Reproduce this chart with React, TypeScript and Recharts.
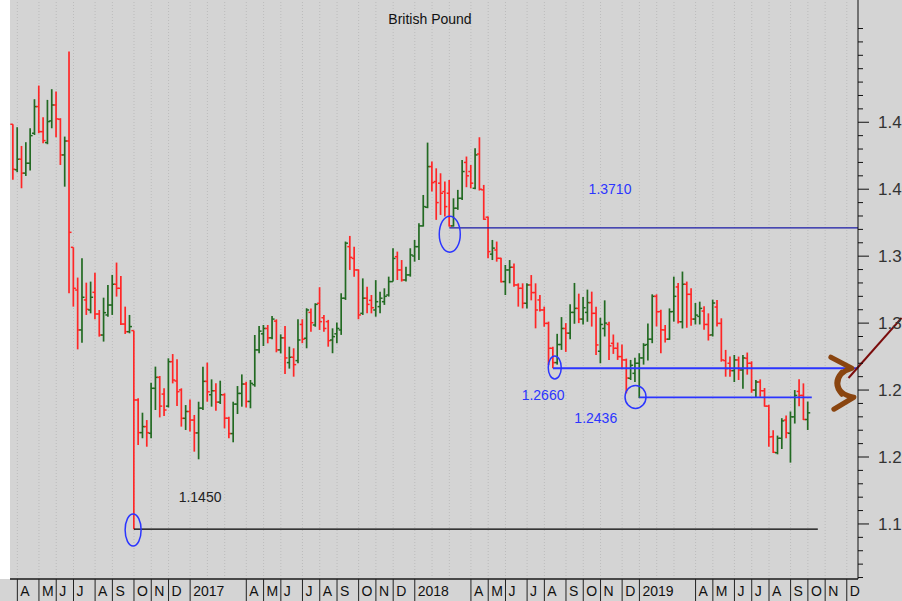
import React from "react";
import {
  Bar,
  ComposedChart,
  ReferenceDot,
  ReferenceLine,
  XAxis,
  YAxis
} from "recharts";

// weekly bars, week 0 = week ending 25 Mar 2016
const opens = [
  1.4485, 1.4145, 1.4224, 1.412, 1.4194, 1.4418, 1.4617, 1.443, 1.4348, 1.451,
  1.4629, 1.4522, 1.4256, 1.436, 1.3566, 1.3247, 1.2949, 1.3173, 1.3098, 1.323,
  1.3068, 1.2911, 1.3061, 1.3135, 1.329, 1.326, 1.2993, 1.2936, 1.2944, 1.2426,
  1.2182, 1.2227, 1.2177, 1.2513, 1.2595, 1.247, 1.238, 1.2712, 1.2568, 1.2501,
  1.2289, 1.234, 1.2276, 1.218, 1.2365, 1.2565, 1.2465, 1.2495, 1.241, 1.2465,
  1.229, 1.2175, 1.2395, 1.2475, 1.2545, 1.2415, 1.254, 1.28, 1.292, 1.296,
  1.289, 1.3015, 1.28, 1.289, 1.2705, 1.2745, 1.272, 1.299, 1.2887, 1.308,
  1.2986, 1.3148, 1.304, 1.3011, 1.2874, 1.292, 1.2949, 1.3186, 1.3571, 1.3483,
  1.3397, 1.3073, 1.3186, 1.317, 1.3098, 1.3123, 1.316, 1.321, 1.331, 1.3496,
  1.3397, 1.3322, 1.336, 1.3501, 1.3571, 1.3726, 1.3865, 1.4169, 1.4057, 1.4045,
  1.3982, 1.397, 1.3726, 1.3858, 1.3932, 1.42, 1.4132, 1.4007, 1.4263, 1.3995,
  1.3791, 1.3515, 1.3546, 1.3484, 1.331, 1.3397, 1.3417, 1.3285, 1.326, 1.3148,
  1.3285, 1.3228, 1.3173, 1.3098, 1.2998, 1.2812, 1.2705, 1.284, 1.296, 1.2925,
  1.308, 1.311, 1.303, 1.308, 1.3153, 1.3073, 1.279, 1.296, 1.299, 1.2849,
  1.2812, 1.275, 1.2725, 1.2588, 1.2625, 1.27, 1.274, 1.284, 1.288, 1.32,
  1.3086, 1.2949, 1.288, 1.3086, 1.327, 1.301, 1.329, 1.3215, 1.303, 1.305,
  1.309, 1.299, 1.2912, 1.312, 1.2998, 1.272, 1.27, 1.2645, 1.2725, 1.265,
  1.2737, 1.27, 1.25, 1.256, 1.2495, 1.238, 1.2152, 1.2032, 1.214, 1.2276,
  1.2177, 1.23, 1.249, 1.246, 1.228
];

const highs = [
  1.4485, 1.4463, 1.4323, 1.4351, 1.4455, 1.4672, 1.4774, 1.4537, 1.4667, 1.4747,
  1.4729, 1.453, 1.4393, 1.5028, 1.3566, 1.334, 1.3484, 1.3302, 1.331, 1.3377,
  1.3098, 1.319, 1.3285, 1.336, 1.3452, 1.3352, 1.3123, 1.3061, 1.2944, 1.2438,
  1.2331, 1.2276, 1.2555, 1.2675, 1.2605, 1.2513, 1.2737, 1.2769, 1.273, 1.2513,
  1.2388, 1.243, 1.2314, 1.2413, 1.2675, 1.2705, 1.258, 1.255, 1.257, 1.2476,
  1.2301, 1.2413, 1.253, 1.2617, 1.2563, 1.2575, 1.2911, 1.2979, 1.2986, 1.2986,
  1.3053, 1.3028, 1.2916, 1.2979, 1.2824, 1.2812, 1.3029, 1.3029, 1.3111, 1.311,
  1.3148, 1.3268, 1.3061, 1.3024, 1.2961, 1.3004, 1.3223, 1.3609, 1.3651, 1.3571,
  1.3401, 1.3334, 1.3272, 1.321, 1.3321, 1.3235, 1.326, 1.3347, 1.3559, 1.3534,
  1.3471, 1.3421, 1.3559, 1.3621, 1.3746, 1.3957, 1.4348, 1.4206, 1.4156, 1.4119,
  1.4057, 1.4069, 1.3932, 1.3995, 1.4219, 1.4244, 1.4181, 1.4306, 1.4388, 1.4032,
  1.3796, 1.3621, 1.3609, 1.3489, 1.3434, 1.3471, 1.3446, 1.3297, 1.3297, 1.3297,
  1.3359, 1.3297, 1.321, 1.3123, 1.3011, 1.2824, 1.292, 1.3045, 1.3, 1.314,
  1.33, 1.322, 1.3195, 1.325, 1.3235, 1.3123, 1.304, 1.317, 1.301, 1.2915,
  1.2855, 1.284, 1.2735, 1.2725, 1.2742, 1.2775, 1.285, 1.2998, 1.3215, 1.3215,
  1.31, 1.2986, 1.311, 1.3347, 1.33, 1.3385, 1.331, 1.326, 1.315, 1.316,
  1.3125, 1.3073, 1.3175, 1.3172, 1.3036, 1.28, 1.275, 1.2762, 1.275, 1.2762,
  1.278, 1.2715, 1.2575, 1.258, 1.2515, 1.239, 1.22, 1.216, 1.229, 1.231,
  1.234, 1.25, 1.258, 1.255, 1.2414
];

const lows = [
  1.407, 1.4127, 1.4007, 1.4099, 1.4139, 1.4405, 1.4418, 1.4343, 1.4336, 1.4455,
  1.4388, 1.4181, 1.4019, 1.3223, 1.3123, 1.2804, 1.2854, 1.3061, 1.3073, 1.3028,
  1.2899, 1.2862, 1.3048, 1.3061, 1.3198, 1.2986, 1.2919, 1.2924, 1.146, 1.209,
  1.214, 1.2077, 1.214, 1.2351, 1.2296, 1.2306, 1.237, 1.255, 1.2381, 1.2227,
  1.2202, 1.219, 1.204, 1.1983, 1.2351, 1.2413, 1.2376, 1.2346, 1.2396, 1.2214,
  1.214, 1.211, 1.2321, 1.2376, 1.2369, 1.2364, 1.2525, 1.2774, 1.2829, 1.2849,
  1.2879, 1.2782, 1.2774, 1.262, 1.266, 1.26, 1.27, 1.285, 1.2812, 1.2936,
  1.2973, 1.2949, 1.2936, 1.2824, 1.2775, 1.2849, 1.2912, 1.3173, 1.3397, 1.3347,
  1.3029, 1.3061, 1.3073, 1.3073, 1.3048, 1.3073, 1.3136, 1.3198, 1.331, 1.3322,
  1.331, 1.331, 1.3347, 1.3459, 1.3471, 1.3721, 1.3858, 1.3982, 1.3771, 1.3808,
  1.3796, 1.3721, 1.3721, 1.3846, 1.392, 1.4015, 1.4007, 1.4, 1.399, 1.3771,
  1.3484, 1.3471, 1.3459, 1.3303, 1.321, 1.3297, 1.3272, 1.3123, 1.311, 1.311,
  1.317, 1.2961, 1.3086, 1.2973, 1.2687, 1.2662, 1.269, 1.28, 1.2785, 1.288,
  1.2995, 1.3, 1.299, 1.301, 1.2974, 1.2762, 1.27, 1.29, 1.2725, 1.277,
  1.2725, 1.2655, 1.2475, 1.2575, 1.256, 1.244, 1.269, 1.272, 1.285, 1.2975,
  1.2775, 1.2855, 1.2875, 1.3011, 1.2998, 1.296, 1.2965, 1.298, 1.299, 1.299,
  1.295, 1.287, 1.29, 1.2974, 1.2712, 1.26, 1.26, 1.256, 1.2575, 1.251,
  1.2615, 1.248, 1.244, 1.245, 1.2376, 1.2077, 1.203, 1.202, 1.206, 1.214,
  1.1958, 1.225, 1.238, 1.2276, 1.2202
];

const closes = [
  1.4149, 1.4224, 1.412, 1.4194, 1.44, 1.4617, 1.443, 1.4363, 1.4505, 1.4629,
  1.4525, 1.4256, 1.436, 1.3678, 1.326, 1.2949, 1.3193, 1.3103, 1.3193, 1.3068,
  1.2911, 1.3078, 1.3135, 1.329, 1.326, 1.2993, 1.2936, 1.2974, 1.2426, 1.2182,
  1.2227, 1.2182, 1.2513, 1.2595, 1.238, 1.2351, 1.2712, 1.2575, 1.2488, 1.2289,
  1.234, 1.2276, 1.218, 1.2365, 1.2565, 1.2487, 1.2495, 1.241, 1.2465, 1.229,
  1.2175, 1.2395, 1.2475, 1.2545, 1.2415, 1.255, 1.28, 1.294, 1.296, 1.289,
  1.303, 1.28, 1.289, 1.274, 1.2745, 1.269, 1.2874, 1.288, 1.3098, 1.3003,
  1.314, 1.3011, 1.296, 1.2869, 1.2899, 1.296, 1.3186, 1.3597, 1.3491, 1.3397,
  1.3061, 1.3186, 1.314, 1.3115, 1.316, 1.3186, 1.32, 1.331, 1.3483, 1.3397,
  1.3322, 1.336, 1.3509, 1.3571, 1.3726, 1.387, 1.4169, 1.4049, 1.39, 1.397,
  1.387, 1.3726, 1.3858, 1.3932, 1.4132, 1.41, 1.4045, 1.4256, 1.4, 1.3776,
  1.3534, 1.356, 1.3484, 1.331, 1.3397, 1.3417, 1.3285, 1.326, 1.3148, 1.3285,
  1.3228, 1.3098, 1.3098, 1.2998, 1.2812, 1.2705, 1.284, 1.296, 1.2925, 1.308,
  1.311, 1.303, 1.3115, 1.3153, 1.3073, 1.2837, 1.299, 1.3, 1.283, 1.2812,
  1.275, 1.2725, 1.259, 1.2685, 1.27, 1.274, 1.2835, 1.288, 1.32, 1.3085,
  1.295, 1.288, 1.3085, 1.32, 1.301, 1.329, 1.3215, 1.303, 1.306, 1.311,
  1.299, 1.291, 1.315, 1.2998, 1.2725, 1.266, 1.2645, 1.2725, 1.265, 1.274,
  1.27, 1.25, 1.256, 1.2495, 1.238, 1.215, 1.2035, 1.214, 1.227, 1.218,
  1.23, 1.246, 1.246, 1.228, 1.233
];

// first week of each labelled month on the time axis
const monthWeeks = [
  1, 6, 10, 14, 19, 23, 28, 32, 36, 41, 54, 58, 62, 67, 71, 75, 80, 84, 88, 93,
  106, 110, 114, 119, 123, 128, 132, 136, 141, 145, 158, 162, 167, 171, 175, 180,
  184, 188, 193
];
const monthLabels = [
  "A", "M", "J", "J", "A", "S", "O", "N", "D", "2017", "A", "M", "J", "J", "A",
  "S", "O", "N", "D", "2018", "A", "M", "J", "J", "A", "S", "O", "N", "D", "2019",
  "A", "M", "J", "J", "A", "S", "O", "N", "D"
];
// every month start gets a dotted grid line
const gridWeeks = [
  1, 6, 10, 14, 19, 23, 28, 32, 36, 41, 45, 49, 54, 58, 62, 67, 71, 75, 80, 84,
  88, 93, 97, 101, 106, 110, 114, 119, 123, 128, 132, 136, 141, 145, 149, 153,
  158, 162, 167, 171, 175, 180, 184, 188, 193
];

const priceTicks = [
  1.11, 1.12, 1.13, 1.14, 1.15, 1.16, 1.17, 1.18, 1.19, 1.2, 1.21, 1.22, 1.23,
  1.24, 1.25, 1.26, 1.27, 1.28, 1.29, 1.3, 1.31, 1.32, 1.33, 1.34, 1.35, 1.36,
  1.37, 1.38, 1.39, 1.4, 1.41, 1.42, 1.43, 1.44, 1.45, 1.46, 1.47, 1.48, 1.49,
  1.5, 1.51, 1.52
];
const labelledPrices = [1.15, 1.2, 1.25, 1.3, 1.35, 1.4, 1.45];

// drawn support levels and their captions
const levelValues = [1.1462, 1.3711, 1.2663, 1.2446];
const levelLabels = ["1.1450", "1.3710", "1.2660", "1.2436"];

const RED = "#ff2626";
const GREEN = "#226a22";
const BLUE = "#2b35ff";
const FONT = "'Liberation Sans', Arial, Helvetica, sans-serif";
const X_DOMAIN: [number, number] = [-0.7, 195.6];
const Y_DOMAIN: [number, number] = [1.1089, 1.5413];

const rows = opens.map((open, i) => ({
  week: i,
  open,
  high: highs[i],
  low: lows[i],
  close: closes[i],
  range: [lows[i], highs[i]]
}));

function OhlcBar(props: any) {
  const { x, y, width, height, payload } = props;
  if (!payload || !Number.isFinite(y) || !Number.isFinite(height)) return null;
  const cx = x + width / 2;
  const top = Math.min(y, y + height);
  const h = Math.abs(height);
  const span = payload.high - payload.low || 1;
  const at = (v: number) => top + ((payload.high - v) / span) * h;
  const color = payload.close >= payload.open ? GREEN : RED;
  return (
    <g stroke={color}>
      <line x1={cx} x2={cx} y1={top} y2={top + h} strokeWidth={1.7} />
      <line x1={cx - 2.5} x2={cx} y1={at(payload.open)} y2={at(payload.open)} strokeWidth={1.5} />
      <line x1={cx} x2={cx + 2.5} y1={at(payload.close)} y2={at(payload.close)} strokeWidth={1.5} />
    </g>
  );
}

function MonthTick(props: any) {
  const { x, y, payload } = props;
  const label = monthLabels[monthWeeks.indexOf(payload.value)];
  return (
    <g>
      <line x1={x} x2={x} y1={y} y2={y + 22} stroke="#222" strokeWidth={1} />
      <text x={x + 3} y={y + 17} fontSize={14} fill="#111" fontFamily={FONT}>
        {label}
      </text>
    </g>
  );
}

function PriceTick(props: any) {
  const { x, y, payload } = props;
  const v = payload.value;
  const major = labelledPrices.some((p) => Math.abs(p - v) < 1e-6);
  return (
    <g>
      <line x1={x} x2={x + (major ? 11 : 5)} y1={y} y2={y} stroke="#111" />
      {major && (
        <text x={x + 20} y={y + 6} fontSize={17} fill="#333" fontFamily={FONT}>
          {v.toFixed(2)}
        </text>
      )}
    </g>
  );
}

const ring = (rx: number, ry: number) => (p: any) =>
  <ellipse cx={p.cx} cy={p.cy} rx={rx} ry={ry} fill="none" stroke={BLUE} strokeWidth={1.5} />;

const note = (text: string, color: string) => (p: any) =>
  (
    <text x={p.cx} y={p.cy} textAnchor="middle" dominantBaseline="central" fontSize={14} fill={color} fontFamily={FONT}>
      {text}
    </text>
  );

// hand drawn brown bracket next to the axis
const bracket = (p: any) => (
  <g fill="none" stroke="#8a4510" strokeWidth={5} strokeLinecap="round" strokeLinejoin="round">
    <path d={`M ${p.cx - 12} ${p.cy - 26} L ${p.cx + 9} ${p.cy - 15} Q ${p.cx - 5} ${p.cy - 11} ${p.cx - 5} ${p.cy} Q ${p.cx - 5} ${p.cy + 11} ${p.cx + 11} ${p.cy + 14} L ${p.cx - 9} ${p.cy + 26}`} />
    <path d={`M ${p.cx - 1} ${p.cy - 11} Q ${p.cx - 11} ${p.cy} ${p.cx - 1} ${p.cy + 11}`} />
  </g>
);

// dotted month grid, drawn in its own layer underneath the bars
function GridLayer() {
  return (
    <ComposedChart width={902} height={601} data={rows} margin={{ top: 0, right: 44, bottom: 22, left: 10 }}>
      <XAxis type="number" dataKey="week" domain={X_DOMAIN} allowDataOverflow hide />
      <YAxis domain={Y_DOMAIN} allowDataOverflow hide />
      {gridWeeks.map((w) => (
        <ReferenceLine key={w} x={w} stroke="#bcbcbc" strokeDasharray="1 2" />
      ))}
    </ComposedChart>
  );
}

export default function App() {
  return (
    <div
      style={{
        position: "absolute",
        left: 0,
        top: 0,
        width: 902,
        height: 601,
        background: "#d4d4d4",
        overflow: "hidden"
      }}
    >
      <div style={{ position: "absolute", left: 0, top: 0, width: 10, height: 579, background: "#fff" }} />
      <div style={{ position: "absolute", left: 0, top: 0 }}>
        <GridLayer />
      </div>
      <div style={{ position: "absolute", left: 0, top: 0 }}>
        <ComposedChart width={902} height={601} data={rows} margin={{ top: 0, right: 0, bottom: 0, left: 10 }}>
          <XAxis
            type="number"
            dataKey="week"
            domain={X_DOMAIN}
            allowDataOverflow
            ticks={monthWeeks}
            interval={0}
            tickSize={0}
            tickMargin={0}
            tick={MonthTick}
            height={22}
            axisLine={{ stroke: "#1a1a1a", strokeWidth: 1.5 }}
          />
          <YAxis
            orientation="right"
            width={44}
            domain={Y_DOMAIN}
            allowDataOverflow
            ticks={priceTicks}
            interval={0}
            tickSize={0}
            tickMargin={0}
            tick={PriceTick}
            axisLine={{ stroke: "#111" }}
          />
          <Bar dataKey="range" shape={OhlcBar} barSize={4} isAnimationActive={false} />

          <ReferenceLine
            segment={[{ x: 28, y: levelValues[0] }, { x: 186.3, y: levelValues[0] }]}
            stroke="#000"
            strokeWidth={1.3}
          />
          <ReferenceLine
            segment={[{ x: 101, y: levelValues[1] }, { x: 195.6, y: levelValues[1] }]}
            stroke="#1a1aa6"
            strokeWidth={1.3}
          />
          <ReferenceLine
            segment={[{ x: 125, y: levelValues[2] }, { x: 195.6, y: levelValues[2] }]}
            stroke={BLUE}
            strokeWidth={1.8}
          />
          <ReferenceLine
            segment={[{ x: 145, y: levelValues[3] }, { x: 184.9, y: levelValues[3] }]}
            stroke={BLUE}
            strokeWidth={1.8}
          />

          <ReferenceDot x={27.8} y={1.1455} r={0} shape={ring(8, 16)} />
          <ReferenceDot x={101.1} y={1.3664} r={0} shape={ring(10.5, 18)} />
          <ReferenceDot x={125.4} y={1.2668} r={0} shape={ring(6.5, 11.5)} />
          <ReferenceDot x={144.1} y={1.2449} r={0} shape={ring(10.5, 11.5)} />

          <ReferenceDot x={43.3} y={1.1702} r={0} shape={note(levelLabels[0], "#222")} />
          <ReferenceDot x={138.2} y={1.4002} r={0} shape={note(levelLabels[1], BLUE)} />
          <ReferenceDot x={122.7} y={1.2463} r={0} shape={note(levelLabels[2], BLUE)} />
          <ReferenceDot x={134.9} y={1.2292} r={0} shape={note(levelLabels[3], BLUE)} />

          <ReferenceLine
            segment={[{ x: 193.4, y: 1.259 }, { x: 205.7, y: 1.3038 }]}
            stroke="#7a0c0c"
            strokeWidth={2}
            ifOverflow="visible"
          />
          <ReferenceDot x={192.1} y={1.2551} r={0} shape={bracket} />
        </ComposedChart>
      </div>
      <div
        style={{
          position: "absolute",
          left: 0,
          width: 860,
          top: 11,
          textAlign: "center",
          fontFamily: FONT,
          fontSize: 14,
          color: "#111"
        }}
      >
        British Pound
      </div>
    </div>
  );
}
